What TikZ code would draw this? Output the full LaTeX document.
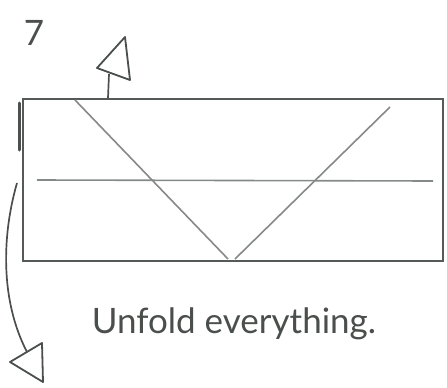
\documentclass[tikz,border=0pt]{standalone}
\usepackage{fontspec}
\setmainfont{Lato}
\usetikzlibrary{arrows.meta}
\definecolor{edge}{HTML}{555A58}
\definecolor{crease}{HTML}{858A87}
\definecolor{ink}{HTML}{4A4F4C}
\begin{document}
\begin{tikzpicture}[x=1pt,y=-1pt,
  paper/.style={draw=edge,line width=2.6pt},
  creaseline/.style={draw=crease,line width=1.6pt},
  hollowtip/.style={draw=ink,line width=1.8pt,fill=white,line join=round},
  arrowline/.style={draw=ink,line width=1.7pt},
  caption/.style={text=ink,font=\fontsize{35}{35}\selectfont,anchor=base,inner sep=0pt}]
\useasboundingbox (0,0) rectangle (447,388);
% paper
\coordinate (tl) at (23,99);
\coordinate (br) at (443,261);
\draw[paper] (tl) rectangle (br);
\draw[ink,line width=3pt,line cap=round] (19.5,103) -- (19.5,150);
% creases
\coordinate (h1) at (37,180);
\coordinate (h2) at (433,181);
\draw[creaseline] (h1) -- (h2);
\coordinate (d1) at (75,100);
\coordinate (d2) at (228,259);
\coordinate (d3) at (235,259);
\coordinate (d4) at (390,107);
\draw[creaseline] (d1) -- (d2);
\draw[creaseline] (d3) -- (d4);
% top arrow
\coordinate (s1) at (108,98);
\coordinate (s2) at (109,74);
\draw[arrowline] (s1) -- (s2);
\draw[hollowtip] (125,37) -- (97,68) -- (130,80) -- cycle;
% bottom curved arrow
\coordinate (c1) at (17,183);
\coordinate (c2) at (27,352);
\draw[arrowline] (c1) .. controls (2,235) and (0,300) .. (c2);
\draw[hollowtip] (10,362) -- (42,343) -- (43,382) -- cycle;
% texts
\node[caption] (num) at (34,45) {7};
\node[caption] (cap) at (234,333) {Unfold everything.};
\end{tikzpicture}
\end{document}
